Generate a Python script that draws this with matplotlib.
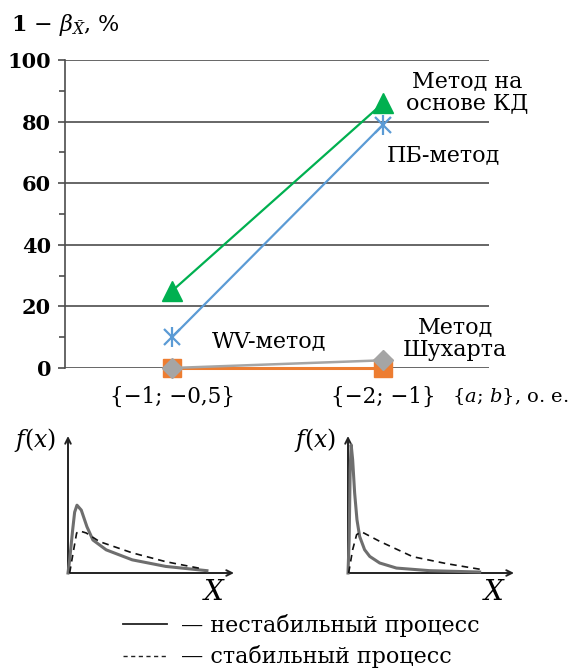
import matplotlib
matplotlib.use("Agg")
import matplotlib.pyplot as plt
from matplotlib.lines import Line2D

plt.rcParams['font.family'] = ['DejaVu Serif']
plt.rcParams['mathtext.fontset'] = 'dejavuserif'

# ---- main chart data ----
categories = ["{−1; −0,5}", "{−2; −1}"]
kd_method = [25, 86]        # Метод на основе КД (green)
pb_method = [10, 79]        # ПБ-метод (blue)
wv_method = [0, 0]          # WV-метод (orange)
shewhart = [0, 2.5]         # Метод Шухарта (gray)
y_ticks = [0, 20, 40, 60, 80, 100]
y_minor = [10, 30, 50, 70, 90]

# ---- inset curves (% of inset axes) ----
left_unstable_x = [0, 1.0, 2.8, 4.0, 5.4, 8.0, 11.4, 15.0, 23.0, 38.7, 58.9, 83.7]
left_unstable_y = [0, 9.6, 31.4, 44.4, 49.5, 45.9, 33.8, 24.1, 16.9, 9.6, 4.8, 1.7]
left_stable_x = [1.0, 3.4, 5.2, 7.0, 11.0, 19.0, 38.7, 59.1, 80.7]
left_stable_y = [0, 16.9, 29.2, 30.7, 29.2, 22.9, 14.7, 8.2, 3.1]
right_unstable_x = [0, 0.7, 1.3, 1.9, 2.8, 4.0, 5.4, 7.0, 10.0, 13.1, 19.1, 29.2, 49.2, 79.3]
right_unstable_y = [0, 24.3, 75.4, 93.6, 82.7, 58.4, 38.9, 26.7, 17.0, 12.1, 7.3, 3.6, 1.7, 0.7]
right_stable_x = [0.4, 2.8, 5.2, 8.1, 19.1, 39.0, 59.5, 81.1]
right_stable_y = [0, 17.0, 28.0, 30.1, 23.1, 11.9, 6.8, 2.4]

W, H = 572, 668
fig = plt.figure(figsize=(W / 100, H / 100), dpi=100)

def fx(px):
    return px / W

def fy(py):
    return 1 - py / H

ax = fig.add_axes([fx(65), fy(368), (489 - 65) / W, (368 - 60) / H])
xpos = list(range(len(categories)))
grid_c = '#4d4d4d'

green = '#00b050'
blue = '#5b9bd5'
orange = '#ed7d31'
gray = '#a5a5a5'

ax.plot(xpos, wv_method, color=orange, lw=2.2, marker='s', ms=13,
        clip_on=False, zorder=3)
ax.plot(xpos, shewhart, color=gray, lw=1.8, marker='D', ms=10.5,
        clip_on=False, zorder=4)
ax.plot(xpos, pb_method, color=blue, lw=1.6, zorder=5)
ax.plot(xpos, pb_method, color=blue, lw=0, marker='x', ms=11, mew=1.6,
        clip_on=False, zorder=5)
ax.plot(xpos, pb_method, color=blue, lw=0, marker='|', ms=15, mew=1.6,
        clip_on=False, zorder=5)
ax.plot(xpos, kd_method, color=green, lw=1.6, marker='^', ms=14,
        clip_on=False, zorder=6)

ax.set_xlim(-0.507, 1.502)
ax.set_ylim(0, 100)
ax.set_yticks(y_ticks)
ax.set_yticks(y_minor, minor=True)
ax.set_xticks(xpos)
ax.set_xticklabels(categories, fontsize=15.5)
ax.tick_params(axis='x', length=0, pad=13)
ax.tick_params(axis='y', which='major', length=5, width=1.2, color=grid_c,
               labelsize=15, pad=5)
ax.tick_params(axis='y', which='minor', length=4, width=1.2, color=grid_c)
for lbl in ax.get_yticklabels():
    lbl.set_fontweight('bold')
ax.grid(axis='y', color=grid_c, lw=1.2, zorder=0)
for s in ['top', 'right', 'bottom']:
    ax.spines[s].set_visible(False)
ax.spines['left'].set_color(grid_c)
ax.spines['left'].set_linewidth(1.2)
ax.set_axisbelow(True)

txt_fs = 16
ax.text(1.398, 89.6, "Метод на\nоснове КД", ha='center', va='center',
        fontsize=txt_fs, linespacing=1.05)
ax.text(1.284, 69.2, "ПБ-метод", ha='center', va='center', fontsize=txt_fs)
ax.text(0.46, 8.8, "WV-метод", ha='center', va='center', fontsize=txt_fs)
ax.text(1.341, 9.7, "Метод\nШухарта", ha='center', va='center', fontsize=txt_fs,
        linespacing=1.05)
fig.text(fx(569), fy(397), r"$\{a;\, b\}$, о. е.", ha='right', va='center',
         fontsize=14)

fig.text(fx(11), fy(25), r"$\mathbf{1}$ − $\beta_{\bar{X}}$, %", ha='left',
         va='center', fontsize=16)

# ---- insets ----
def make_inset(left_px, ux, uy, sx, sy):
    iax = fig.add_axes([fx(left_px), fy(573), 166 / W, (573 - 436) / H])
    iax.set_xlim(0, 100)
    iax.set_ylim(0, 100)
    iax.axis('off')
    iax.annotate('', xy=(100, 0), xytext=(0, 0),
                 arrowprops=dict(arrowstyle='->', color='#222222', lw=1.4,
                                 shrinkA=0, shrinkB=0), annotation_clip=False)
    iax.annotate('', xy=(0, 100), xytext=(0, 0),
                 arrowprops=dict(arrowstyle='->', color='#222222', lw=1.4,
                                 shrinkA=0, shrinkB=0), annotation_clip=False)
    iax.plot(ux, uy, color='#6e6e6e', lw=2.2, clip_on=False, zorder=3)
    iax.plot(sx, sy, color='#111111', lw=1.2, ls=(0, (4, 3)), clip_on=False,
             zorder=4)
    iax.text(-7, 97, r"$f(x)$", ha='right', va='center', fontsize=17)
    iax.text(88, -14, r"$X$", ha='center', va='center', fontsize=20)
    return iax

make_inset(68, left_unstable_x, left_unstable_y, left_stable_x, left_stable_y)
make_inset(348, right_unstable_x, right_unstable_y, right_stable_x, right_stable_y)

handles = [Line2D([], [], color='#222222', lw=1.3),
           Line2D([], [], color='#222222', lw=1.0, ls=(0, (3, 2.5)))]
fig.legend(handles, ["— нестабильный процесс", "— стабильный процесс"],
           loc='center left', bbox_to_anchor=(fx(123), fy(641)), frameon=False,
           fontsize=16, handlelength=2.0, handletextpad=0.6, labelspacing=0.4,
           borderpad=0, borderaxespad=0)

fig.savefig("out.png", dpi=100)
